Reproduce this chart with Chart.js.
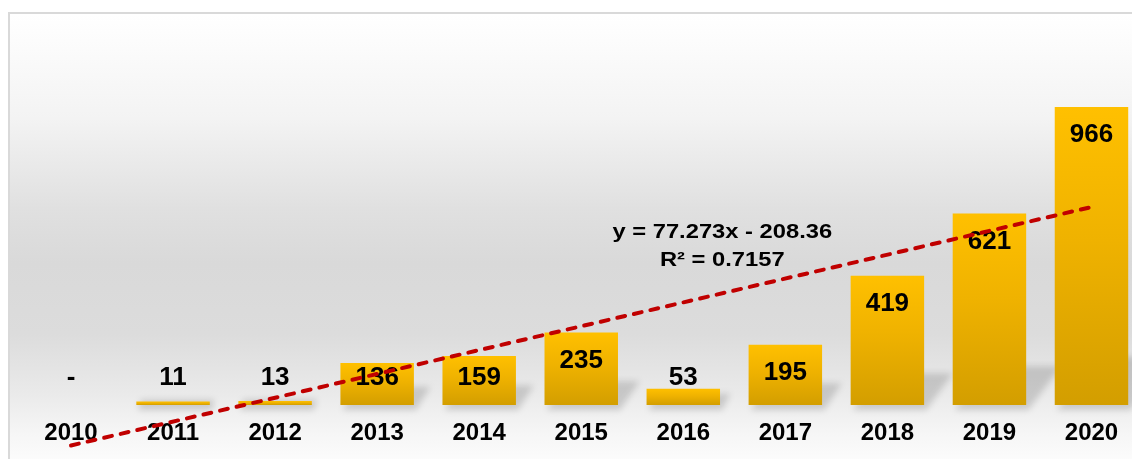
<!DOCTYPE html>
<html>
<head>
<meta charset="utf-8">
<title>Yearly count</title>
<script src="https://cdn.jsdelivr.net/npm/chart.js@4.4.1/dist/chart.umd.min.js"></script>
<style>
    html, body {
        margin: 0;
        padding: 0;
        width: 1132px;
        height: 459px;
        overflow: hidden;
        background: #ffffff;
    }
    #frame {
        position: absolute;
        left: 8px;
        top: 12px;
        width: 1140px;
        height: 460px;
        border-left: 2px solid #d9d9d9;
        border-top: 2px solid #d9d9d9;
        background: linear-gradient(to bottom,
            #ffffff 0px, #f3f3f3 105px, #e0e0e0 195px, #d9d9d9 250px,
            #dcdcdc 320px, #eaeaea 380px, #f6f6f6 420px, #fcfcfc 447px);
    }
    #chart {
        position: absolute;
        left: 0;
        top: 0;
    }
</style>
</head>
<body>
<div id="frame"></div>
<canvas id="chart" width="1150" height="473"></canvas>

<script>
// values
const years = ['2010', '2011', '2012', '2013', '2014', '2015', '2016', '2017', '2018', '2019', '2020'];
const counts = [0, 11, 13, 136, 159, 235, 53, 195, 419, 621, 966];

// linear trendline as printed on the chart (x = 1 for 2010)
const trendSlope = 77.273;
const trendIntercept = -208.36;
const trendR2 = 0.7157;

const labelFont = 'bold 26px "Liberation Sans", Arial, sans-serif';
const eqFont = 'bold 21px "Liberation Sans", Arial, sans-serif';

// only the two end points of the trendline, the rest spanned
var trendData = years.map(function (y, i) {
    if (i === 0 || i === years.length - 1) {
        return trendSlope * (i + 1) + trendIntercept;
    }
    return null;
});

function barGradient(context) {
    const chart = context.chart;
    if (!chart.chartArea || context.type !== 'data') {
        return '#f5b800';
    }
    const yScale = chart.scales.y;
    const top = yScale.getPixelForValue(context.raw);
    const base = yScale.getPixelForValue(0);
    if (!isFinite(top) || base - top < 1) {
        const g0 = chart.ctx.createLinearGradient(0, base - 4, 0, base);
        g0.addColorStop(0, '#ffc000');
        g0.addColorStop(1, '#d9a300');
        return g0;
    }
    const g = chart.ctx.createLinearGradient(0, top, 0, base);
    g.addColorStop(0, '#ffc000');
    g.addColorStop(0.45, '#efb200');
    g.addColorStop(1, '#d39e00');
    return g;
}

// soft perspective shadow behind every bar
const shadowPlugin = {
    id: 'barShadows',
    beforeDatasetsDraw(chart) {
        const ctx = chart.ctx;
        const meta = chart.getDatasetMeta(1);
        ctx.save();
        ctx.filter = 'blur(3px)';
        ctx.fillStyle = 'rgba(0, 0, 0, 0.15)';
        meta.data.forEach(function (bar) {
            const h = bar.base - bar.y;
            if (h <= 0) return;
            const sh = 2.8 * Math.sqrt(h);
            const left = bar.x - bar.width / 2;
            const right = bar.x + bar.width / 2;
            ctx.beginPath();
            ctx.moveTo(left + 2, bar.base + 5);
            ctx.lineTo(right + 2, bar.base + 5);
            ctx.lineTo(right + sh * 0.9, bar.base - sh);
            ctx.lineTo(left + sh * 0.9, bar.base - sh);
            ctx.closePath();
            ctx.fill();
        });
        ctx.restore();
    }
};

// value labels, inside the end of the bar, never lower than the short-bar row
const valueLabelPlugin = {
    id: 'valueLabels',
    afterDatasetDraw(chart, args) {
        if (args.index !== 1) return;
        const ctx = chart.ctx;
        const rowY = chart.scales.y.getPixelForValue(0) - 27;
        ctx.save();
        ctx.font = labelFont;
        ctx.fillStyle = '#000000';
        ctx.textAlign = 'center';
        ctx.textBaseline = 'middle';
        args.meta.data.forEach(function (bar, i) {
            const v = counts[i];
            const text = v === 0 ? '-' : String(v);
            const y = Math.min(bar.y + 28, rowY);
            ctx.fillText(text, bar.x, y);
        });
        ctx.restore();
    }
};

// trendline equation
const equationPlugin = {
    id: 'equation',
    afterDraw(chart) {
        const ctx = chart.ctx;
        const x = chart.scales.x.getPixelForValue(6) + 39;
        const y = chart.scales.y.getPixelForValue(561);
        ctx.save();
        ctx.font = eqFont;
        ctx.fillStyle = '#000000';
        ctx.textAlign = 'center';
        ctx.textBaseline = 'middle';
        ctx.translate(x, y);
        ctx.scale(1.13, 1);
        ctx.fillText('y = ' + trendSlope + 'x - ' + Math.abs(trendIntercept).toFixed(2), 0, 0);
        ctx.fillText('R\u00b2 = ' + trendR2, 0, 28);
        ctx.restore();
    }
};

function initializeChart() {
    var ctx = document.getElementById('chart').getContext('2d');
    var myChart = new Chart(ctx, {
        data: {
            labels: years,
            datasets: [{
                type: 'line',
                label: 'Linear trend',
                data: trendData,
                order: 0,
                spanGaps: true,
                clip: false,
                borderColor: '#c00000',
                borderWidth: 4,
                borderDash: [8, 9],
                borderCapStyle: 'round',
                pointRadius: 0,
                fill: false,
                tension: 0
            }, {
                type: 'bar',
                label: 'Count',
                data: counts,
                order: 1,
                backgroundColor: barGradient,
                borderWidth: 0,
                barPercentage: 0.72,
                categoryPercentage: 1.0
            }]
        },
        options: {
            responsive: false,
            animation: false,
            devicePixelRatio: 1,
            layout: {
                padding: { left: 20, right: 7.5, top: 65.6, bottom: 11.2 }
            },
            plugins: {
                legend: { display: false },
                tooltip: { enabled: false }
            },
            scales: {
                x: {
                    offset: true,
                    border: { display: false },
                    grid: { display: false, drawTicks: false },
                    ticks: {
                        padding: 14,
                        color: '#000000',
                        font: { family: '"Liberation Sans", Arial, sans-serif', size: 24, weight: 'bold' }
                    }
                },
                y: {
                    display: false,
                    min: 0,
                    max: 1100
                }
            }
        },
        plugins: [shadowPlugin, valueLabelPlugin, equationPlugin]
    });
}

window.onload = function () {
    initializeChart();
};
</script>
</body>
</html>
